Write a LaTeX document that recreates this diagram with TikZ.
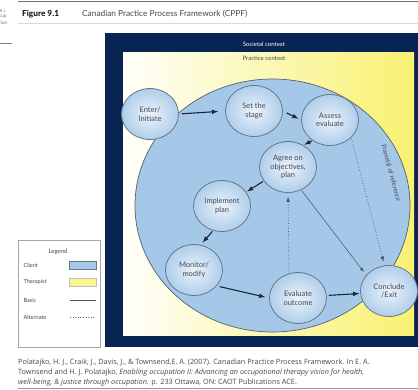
\documentclass[tikz,border=0pt]{standalone}
\usepackage{fontspec}
\setmainfont{Lato}
\newfontfamily\citefont{Open Sans}
\usetikzlibrary{calc,shapes.geometric}

\definecolor{navy}{RGB}{8,36,82}
\definecolor{clientblue}{RGB}{166,200,232}
\definecolor{paleblue}{RGB}{226,238,249}
\definecolor{therapist}{RGB}{249,241,112}
\definecolor{ringgray}{RGB}{105,120,132}
\definecolor{inkgray}{RGB}{70,72,82}
\definecolor{arrowink}{RGB}{28,38,56}

\tikzset{
  stage/.style={ellipse, draw=ringgray, line width=0.8pt, inner color=paleblue!70!white,
    outer color=clientblue!85!paleblue, minimum width=57pt, minimum height=51pt,
    inner sep=0pt, align=center, text=inkgray, font=\fontsize{7.5}{8.6}\selectfont},
  basic/.style={-latex, line width=1.1pt, draw=arrowink, shorten <=3pt, shorten >=4pt},
  plainarrow/.style={-latex, line width=0.5pt, draw=arrowink!80, shorten <=1pt, shorten >=4pt},
  alternate/.style={-latex, line width=0.7pt, dotted, draw=arrowink!80, shorten <=1pt, shorten >=4pt},
  legendtext/.style={anchor=west, text=inkgray, font=\fontsize{5.6}{6.5}\selectfont},
  citeline/.style={anchor=west, text=inkgray, inner sep=0pt, font=\citefont\fontsize{7.3}{8}\selectfont}
}

\begin{document}
\begin{tikzpicture}[x=1pt,y=-1pt]
            \useasboundingbox (0,0) rectangle (418,389);
            \fill [white] (0,0) rectangle (418,389);

            % page header
            \draw [black!55, line width=1.2pt] (18,1.5) -- (418,1.5);
            \draw [black!15, line width=0.4pt] (18,23) -- (418,23);
            \node (fig) at (22,14) [anchor=west, inner sep=0pt, font=\fontsize{8.3}{10}\selectfont\bfseries] {Figure 9.1};
            \node (title) at (82,14) [anchor=west, inner sep=0pt, text=inkgray, font=\fontsize{8.3}{10}\selectfont] {Canadian Practice Process Framework (CPPF)};

            % cut-off words at the left margin
            \node (cut1) at (-1,11) [anchor=west, inner sep=0pt, text=black!55, font=\fontsize{4.6}{5}\selectfont] {al c};
            \node (cut2) at (-1,17) [anchor=west, inner sep=0pt, text=black!55, font=\fontsize{4.6}{5}\selectfont] {cup};
            \node (cut3) at (-1,23) [anchor=west, inner sep=0pt, text=black!55, font=\fontsize{4.6}{5}\selectfont] {tion};
            \draw [black!50, line width=0.6pt] (0,43) -- (12,43);

            % contexts
            \fill [navy] (105,33) rectangle (420,347);
            \shade [left color=white!96!therapist, right color=therapist] (123,52) rectangle (414,335);
            \node (societal) at (264,44) [text=white, font=\fontsize{6}{7}\selectfont] {Societal context};
            \node (practice) at (264,58) [text=inkgray, font=\fontsize{6}{7}\selectfont] {Practice context};

            % client
            \draw [fill=clientblue, draw=ringgray!80!black, line width=0.7pt] (272.5,205.5) ellipse [x radius=137.5pt, y radius=126.5pt];
            \node (frame) at (391,173) [rotate=-75, text=inkgray, font=\fontsize{6.4}{7}\selectfont] {Frame(s) of reference};

            % process points
            \node (enter) at (150,114) [stage] {Enter/\\Initiate};
            \node (setstage) at (254,111) [stage] {Set the\\stage};
            \node (assess) at (330,120) [stage] {Assess\\evaluate};
            \node (agree) at (288,167) [stage] {Agree on\\objectives,\\plan};
            \node (implement) at (222,206) [stage] {Implement\\plan};
            \node (monitor) at (194,270) [stage] {Monitor/\\modify};
            \node (evaluate) at (298,298) [stage] {Evaluate\\outcome};
            \node (conclude) at (389,291) [stage] {Conclude\\/Exit};

            \draw [basic, shorten >=7pt] (enter.east) -- (setstage.west);
            \draw [basic, shorten <=4pt, shorten >=3pt] (setstage.east) -- (assess.west);
            \draw [basic, shorten <=1pt, shorten >=1pt] (assess.-130) -- (agree.55);
            \draw [basic, shorten <=1pt, shorten >=1pt] (agree.-150) -- (implement.30);
            \draw [basic, shorten <=1pt, shorten >=3pt] (implement.-110) -- (monitor.75);
            \draw [basic] (monitor.-35) -- (evaluate.west);
            \draw [basic, shorten <=2pt, shorten >=1pt] (evaluate.5) -- (conclude.185);
            \draw [alternate] (evaluate.110) -- (agree.south);
            \draw [plainarrow] (agree.-60) -- (conclude.145);
            \draw [alternate] (assess.-40) -- (conclude.100);

            % legend
            \draw [black!35, fill=white, line width=0.6pt] (18,240) rectangle (100,347);
            \node (legend) at (58,252) [text=inkgray, font=\fontsize{6}{7}\selectfont] {Legend};
            \node (lclient) at (20,265) [legendtext] {Client};
            \node (ltherapist) at (20,282) [legendtext] {Therapist};
            \node (lbasic) at (20,300) [legendtext] {Basic};
            \node (lalternate) at (20,317) [legendtext] {Alternate};
            \draw [fill=clientblue, draw=ringgray] (69,261) rectangle (96,269);
            \draw [fill=therapist!80, draw=black!25] (69,278) rectangle (96,286);
            \draw [line width=0.8pt, arrowink!80] (70,300) -- (96,300);
            \draw [line width=0.6pt, dotted, arrowink!70] (70,317) -- (96,317);

            % reference
            \node (cite1) at (18,363) [citeline] {Polatajko, H. J., Craik, J., Davis, J., \& Townsend,E. A. (2007). Canadian Practice Process Framework. In E. A.};
            \node (cite2) at (18,373) [citeline] {Townsend and H. J. Polatajko, \textit{Enabling occupation II: Advancing an occupational therapy vision for health,}};
            \node (cite3) at (18,383) [citeline] {\textit{well-being, \& justice through occupation.} p. 233 Ottawa, ON: CAOT Publications ACE.};
            \draw [black!40, line width=0.5pt] (18,388.5) -- (418,388.5);

        \end{tikzpicture}
\end{document}
